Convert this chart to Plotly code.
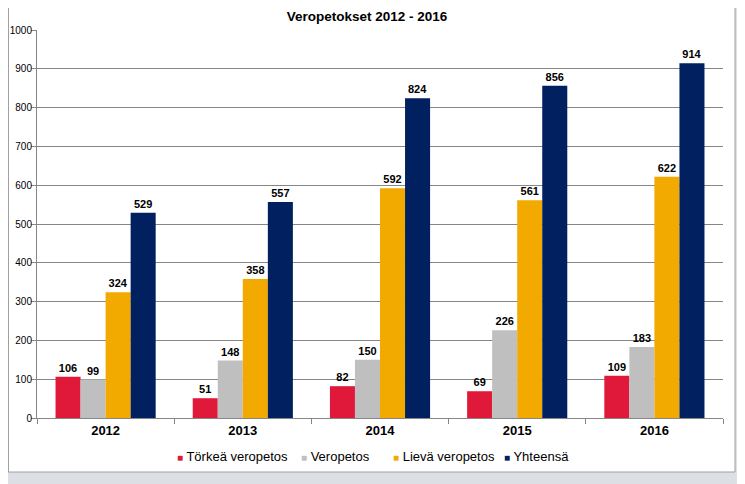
import plotly.graph_objects as go

years = ["2012", "2013", "2014", "2015", "2016"]
torkea = [106, 51, 82, 69, 109]
veropetos = [99, 148, 150, 226, 183]
lieva = [324, 358, 592, 561, 622]
yhteensa = [529, 557, 824, 856, 914]

series_names = ["Törkeä veropetos", "Veropetos", "Lievä veropetos", "Yhteensä"]
series_values = [torkea, veropetos, lieva, yhteensa]
series_colors = ["#E0193A", "#BFBFBF", "#F2A900", "#002060"]

fig = go.Figure()
for name, vals, col in zip(series_names, series_values, series_colors):
    fig.add_trace(go.Bar(
        x=years, y=vals, name=name, marker_color=col, marker_line_width=0,
        text=[str(v) for v in vals], textposition="outside", textangle=0,
        cliponaxis=False, constraintext="none",
        texttemplate="<b>%{text}</b>",
        textfont=dict(family="Liberation Sans", size=11, color="#000000"),
    ))

OFF = 8  # browser body margin
W, H = 745 - OFF, 484 - OFF
L, T = 37 - OFF, 30 - OFF
R = W - (723 - OFF)
B = H - (418 - OFF)
pw, ph = W - L - R, H - T - B

def px_x(p):
    return (p - OFF - L) / pw

def px_y(p):
    return (H - B - (p - OFF)) / ph

shapes = [
    dict(type="rect", xref="paper", yref="paper", x0=px_x(735), x1=px_x(760),
         y0=px_y(500), y1=px_y(0), fillcolor="#DCDFE4", line_width=0, layer="below"),
    dict(type="rect", xref="paper", yref="paper", x0=px_x(0), x1=px_x(760),
         y0=px_y(500), y1=px_y(472), fillcolor="#DCDFE4", line_width=0, layer="below"),
    dict(type="line", xref="paper", yref="paper", x0=px_x(8.5), x1=px_x(8.5),
         y0=px_y(472), y1=px_y(8), line=dict(color="#A0A0A0", width=1), layer="below"),
    dict(type="line", xref="paper", yref="paper", x0=px_x(8), x1=px_x(735),
         y0=px_y(472), y1=px_y(472), line=dict(color="#A0A0A0", width=1), layer="below"),
    dict(type="line", xref="paper", yref="paper", x0=px_x(735), x1=px_x(735),
         y0=px_y(472), y1=px_y(8), line=dict(color="#A0A0A0", width=1), layer="below"),
]

legend_x = [175, 299, 391, 502]
annotations = []
for name, col, lx in zip(series_names, series_colors, legend_x):
    annotations.append(dict(
        xref="paper", yref="paper", x=px_x(lx), y=px_y(456), xanchor="left",
        yanchor="middle", showarrow=False,
        text=f"<span style='color:{col};font-size:10px'>■</span> {name}",
        font=dict(family="Liberation Sans", size=13, color="#000000"),
    ))

fig.update_layout(
    width=W, height=H,
    margin=dict(l=L, r=R, t=T, b=B, autoexpand=False),
    paper_bgcolor="#FFFFFF", plot_bgcolor="#FFFFFF",
    barmode="group", bargap=0.27, bargroupgap=0,
    title=dict(text="<b>Veropetokset 2012 - 2016</b>", x=(367 - OFF) / W, xref="container",
               xanchor="center", y=1 - 8.5 / H, yanchor="middle",
               font=dict(family="Liberation Sans", size=13.5, color="#000000")),
    font=dict(family="Liberation Sans", color="#000000"),
    showlegend=False,
    shapes=shapes,
    annotations=annotations,
)
fig.update_yaxes(range=[0, 1000], dtick=100, showgrid=True, gridcolor="#868686",
                 gridwidth=1, showline=True, linecolor="#868686", ticks="outside",
                 ticklen=5, tickcolor="#868686", zeroline=False,
                 ticklabelstandoff=-3,
                 tickfont=dict(family="Liberation Sans", size=10, color="#000000"))
fig.update_xaxes(showline=True, linecolor="#868686", ticks="outside",
                 tickson="boundaries", ticklen=5, tickcolor="#868686",
                 tickfont=dict(family="Liberation Sans", size=13, color="#000000"),
                 tickprefix="<b>", ticksuffix="</b>")

fig.write_html("out.html")
